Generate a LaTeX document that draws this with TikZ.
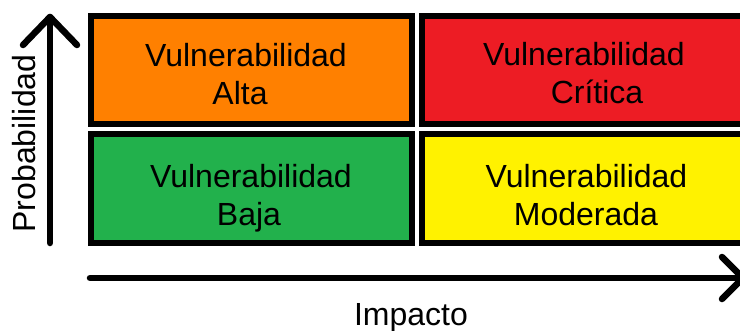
\documentclass[tikz,border=0pt]{standalone}
\usepackage{fontspec}
\setmainfont{Liberation Sans}
\definecolor{cOrange}{RGB}{255,127,39}
\definecolor{cOrangeB}{RGB}{255,128,0}
\definecolor{cRed}{RGB}{237,28,36}
\definecolor{cGreen}{RGB}{34,177,76}
\definecolor{cYellow}{RGB}{255,242,0}
\begin{document}
\begin{tikzpicture}[x=1pt,y=-1pt,
  cell/.style={draw=black, line width=6pt, inner sep=0pt, outer sep=0pt},
  lbl/.style={anchor=base, inner sep=0pt, font=\fontsize{32}{38}\selectfont},
  axis/.style={line width=6.5pt, line cap=round, line join=round}]
\useasboundingbox (0,0) rectangle (740,330);
% cells
\node[cell, fill=cOrangeB, minimum width=321pt, minimum height=108pt] (alta) at (251.5,70) {};
\node[cell, fill=cRed, minimum width=326pt, minimum height=108pt] (critica) at (585,70) {};
\node[cell, fill=cGreen, minimum width=321pt, minimum height=109pt] (baja) at (251.5,188.5) {};
\node[cell, fill=cYellow, minimum width=326pt, minimum height=109pt] (moderada) at (585,188.5) {};
% labels
\node[lbl] (t1a) at (246,66) {Vulnerabilidad};
\node[lbl] (t1b) at (240,104) {Alta};
\node[lbl] (t2a) at (584,65.5) {Vulnerabilidad};
\node[lbl] (t2b) at (597,103) {Crítica};
\node[lbl] (t3a) at (251,187) {Vulnerabilidad};
\node[lbl] (t3b) at (249,225) {Baja};
\node[lbl] (t4a) at (586.5,187) {Vulnerabilidad};
\node[lbl] (t4b) at (586,225) {Moderada};
% axes
\coordinate (yb) at (50,243);
\coordinate (yt) at (50,17);
\draw[axis] (yb) -- (yt);
\draw[axis] (yt) ++(-27,28) -- (yt) -- ++(27,28);
\coordinate (xl) at (90,278);
\coordinate (xr) at (743,278);
\draw[axis] (xl) -- (xr);
\draw[axis] (xr) ++(-21,-21) -- (xr) -- ++(-21,21);
% axis titles
\node[lbl, rotate=90] (py) at (35,143.5) {Probabilidad};
\node[lbl] (px) at (411,325) {Impacto};
\end{tikzpicture}
\end{document}
